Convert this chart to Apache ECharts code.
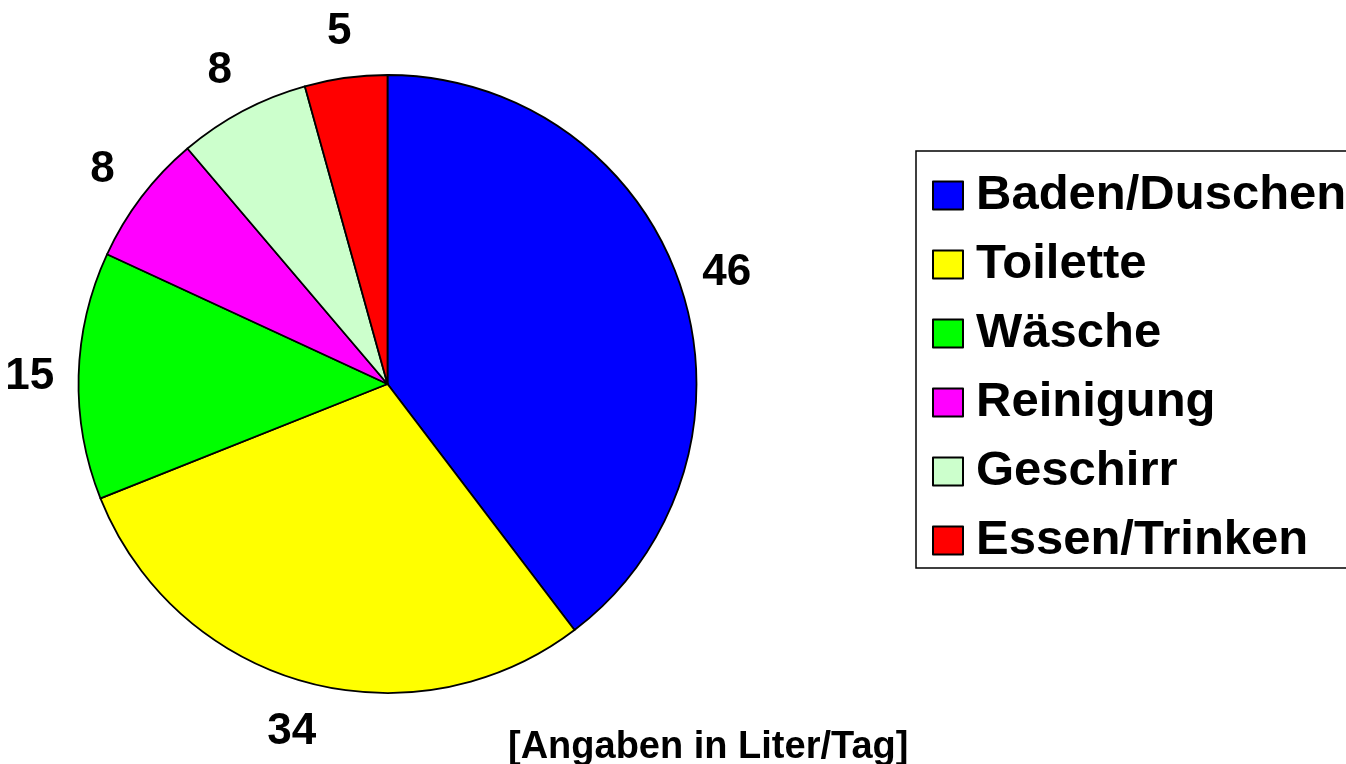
<!DOCTYPE html>
<html>
<head>
<meta charset="utf-8">
<script src="https://cdn.jsdelivr.net/npm/echarts@6/dist/echarts.min.js"></script>
<style>
  html, body { margin: 0; padding: 0; background: #fff; }
  #chart { width: 1346px; height: 764px; }
</style>
</head>
<body>
<div id="chart"></div>
<script>
// Wasserverbrauch pro Tag
const categories = ['Baden/Duschen', 'Toilette', 'Wäsche', 'Reinigung', 'Geschirr', 'Essen/Trinken'];
const values = [46, 34, 15, 8, 8, 5];
const colors = ['#0000ff', '#ffff00', '#00ff00', '#ff00ff', '#ccffcc', '#ff0000'];
const unitNote = '[Angaben in Liter/Tag]';

const FONT = '"Liberation Sans", Arial, sans-serif';

const chart = echarts.init(document.getElementById('chart'));

const pieData = categories.map((name, i) => ({
    name: name,
    value: values[i],
    itemStyle: { color: colors[i] }
}));

// zweiter, unsichtbarer Ring nur fuer die Werte ausserhalb
const labelData = categories.map((name, i) => ({ name: name, value: values[i] }));

chart.setOption({
    animation: false,
    legend: {
        orient: 'vertical',
        left: 916,
        top: 151,
        padding: [20, 12, 3, 16],
        itemGap: 20,
        itemWidth: 30,
        itemHeight: 28,
        icon: 'rect',
        borderColor: '#000',
        borderWidth: 1.5,
        selectedMode: false,
        data: categories,
        textStyle: {
            fontFamily: FONT,
            fontWeight: 'bold',
            fontSize: 49,
            color: '#000',
            padding: [0, 0, 0, 8]
        }
    },
    graphic: [{
        type: 'text',
        left: 508,
        top: 729,
        style: {
            text: unitNote,
            font: 'bold 38px ' + FONT,
            fill: '#000'
        }
    }],
    series: [
        {
            type: 'pie',
            center: [387.5, 384],
            radius: 309,
            startAngle: 90,
            clockwise: true,
            silent: true,
            label: { show: false },
            labelLine: { show: false },
            itemStyle: { borderColor: '#000', borderWidth: 1.8 },
            data: pieData
        },
        {
            type: 'pie',
            center: [387.5, 384],
            radius: [340, 370],
            startAngle: 90,
            clockwise: true,
            silent: true,
            itemStyle: { color: 'rgba(0,0,0,0)', borderWidth: 0 },
            labelLine: { show: false },
            label: {
                show: true,
                position: 'inside',
                formatter: '{c}',
                offset: [0, 3],
                fontFamily: FONT,
                fontWeight: 'bold',
                fontSize: 44,
                color: '#000'
            },
            data: labelData
        }
    ]
});
</script>
</body>
</html>
